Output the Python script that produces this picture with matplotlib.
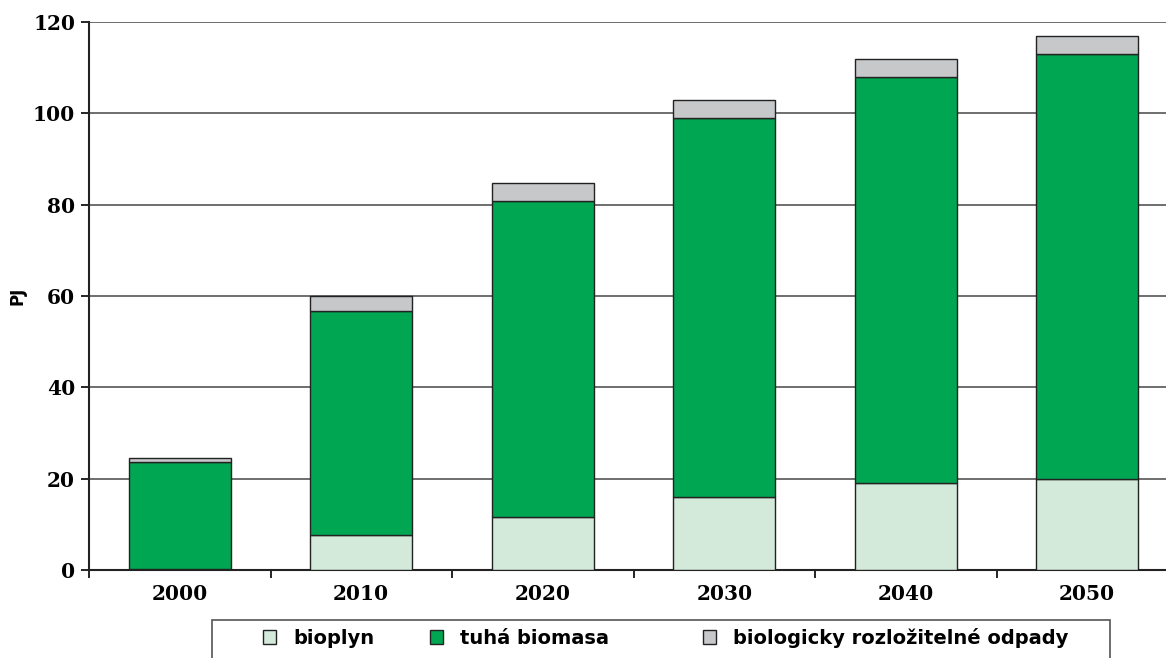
import matplotlib.pyplot as plt
import numpy as np
from matplotlib.patches import Patch, Rectangle

years = ['2000', '2010', '2020', '2030', '2040', '2050']
bioplyn = [0.3, 7.7, 11.7, 16.0, 19.0, 20.0]
tuha_biomasa = [23.4, 49.0, 69.0, 83.0, 89.0, 93.0]
odpady = [0.9, 3.3, 4.0, 4.0, 4.0, 4.0]
series_names = ['bioplyn', 'tuhá biomasa', 'biologicky rozložitelné odpady']
colors = ['#d3eadb', '#00a651', '#c7c8ca']

num_font = ['DejaVu Serif']
leg_font = ['DejaVu Sans']

fig = plt.figure(figsize=(11.66, 6.58), dpi=100)
ax = fig.add_axes([89/1166, 1-570/658, (1178-89)/1166, 548/658])

x = np.arange(len(years))
w = 0.56
b1 = np.array(bioplyn)
b2 = b1 + np.array(tuha_biomasa)
ax.bar(x, bioplyn, w, color=colors[0], edgecolor='#222222', linewidth=1, zorder=3)
ax.bar(x, tuha_biomasa, w, bottom=b1, color=colors[1], edgecolor='#222222', linewidth=1, zorder=3)
ax.bar(x, odpady, w, bottom=b2, color=colors[2], edgecolor='#222222', linewidth=1, zorder=3)

ax.set_xlim(-0.5, len(years) - 0.5)
ax.set_ylim(0, 120)
ax.set_yticks(np.arange(0, 121, 20))
ax.set_yticklabels([str(v) for v in range(0, 121, 20)], fontsize=14.5, fontweight='heavy', family=num_font)
ax.yaxis.grid(True, color='#555555', linewidth=1.2, zorder=0)
ax.set_xticks(x)
ax.set_xticklabels(years, fontsize=14.5, fontweight='heavy', family=num_font)
ax.set_xticks(np.arange(-0.5, len(years)), minor=True)
ax.tick_params(axis='x', which='major', length=0, pad=10)
ax.tick_params(axis='x', which='minor', length=6, width=1.2, direction='out')
ax.tick_params(axis='y', length=6, width=1.2, direction='out', pad=4)

for s in ['top', 'right']:
    ax.spines[s].set_visible(False)
for s in ['left', 'bottom']:
    ax.spines[s].set_linewidth(1.5)
    ax.spines[s].set_color('#222222')

fig.text(18/1166, 1-296/658, 'PJ', rotation=90, ha='center', va='center',
         fontsize=12, fontweight='bold', family=leg_font)

# legend box
fig.add_artist(Rectangle((212/1166, -0.01), (1110-212)/1166, 0.01 + 1-620/658,
                         transform=fig.transFigure, facecolor='white',
                         edgecolor='#555555', linewidth=1.2))
legend_x = [263, 430, 703]
for name, c, lx in zip(series_names, colors, legend_x):
    h = Patch(facecolor=c, edgecolor='#222222', linewidth=1)
    leg = fig.legend([h], [name], loc='center left',
                     bbox_to_anchor=(lx/1166, 1-638/658), frameon=False,
                     handlelength=0.65, handleheight=0.7, handletextpad=0.9,
                     borderpad=0, borderaxespad=0,
                     prop={'family': leg_font, 'weight': 'bold', 'size': 14})

fig.savefig('out.png', dpi=100)
